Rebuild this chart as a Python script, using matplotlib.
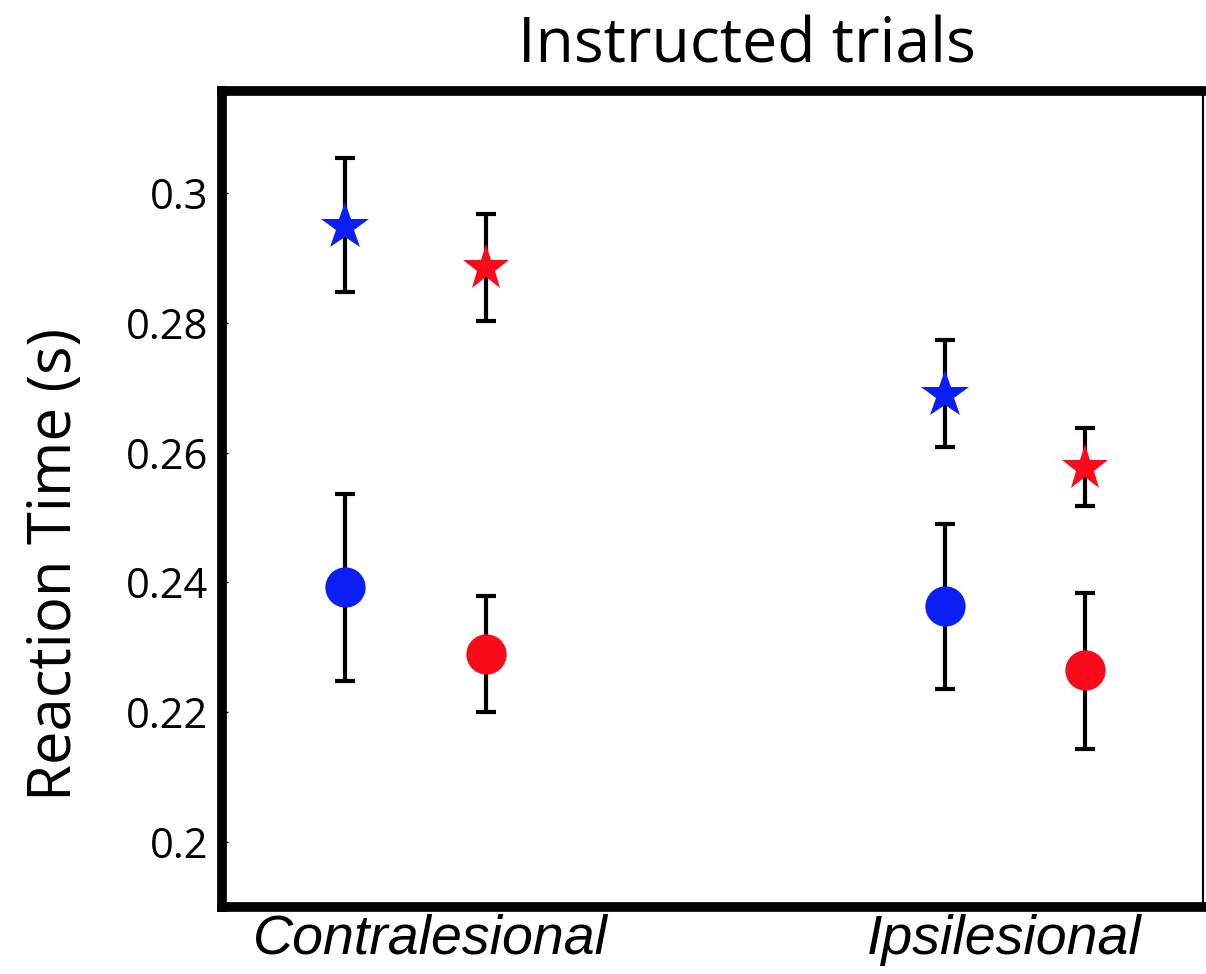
import matplotlib
matplotlib.use("Agg")
import matplotlib.pyplot as plt
from matplotlib import font_manager

categories = ["Contralesional", "Ipsilesional"]
blue_star = [0.2948, 0.2689]
blue_star_lo = [0.2847, 0.2609]
blue_star_hi = [0.3054, 0.2774]
red_star = [0.2884, 0.2576]
red_star_lo = [0.2803, 0.2518]
red_star_hi = [0.2968, 0.2638]
blue_circ = [0.2393, 0.2364]
blue_circ_lo = [0.2248, 0.2236]
blue_circ_hi = [0.2536, 0.2490]
red_circ = [0.2290, 0.2265]
red_circ_lo = [0.2200, 0.2143]
red_circ_hi = [0.2379, 0.2384]
yticks = [0.2, 0.22, 0.24, 0.26, 0.28, 0.3]
ytick_labels = ["0.2", "0.22", "0.24", "0.26", "0.28", "0.3"]

names = {f.name for f in font_manager.fontManager.ttflist}
narrow = "Liberation Sans Narrow" in names
xfam = "Liberation Sans Narrow" if narrow else "Liberation Sans"
xsize = 44 if narrow else 40

fig = plt.figure(figsize=(12.06, 9.74), dpi=100)
ax = fig.add_axes([0.184, 0.0688, 0.8134, 0.8378])

xs = [1, 2]
off = 0.117
series = [
    (blue_star, blue_star_lo, blue_star_hi, "#0a1ff5", "*", -off, 36),
    (red_star, red_star_lo, red_star_hi, "#fb0a1a", "*", off, 35),
    (blue_circ, blue_circ_lo, blue_circ_hi, "#0a1ff5", "o", -off, 29),
    (red_circ, red_circ_lo, red_circ_hi, "#fb0a1a", "o", off, 29),
]
for vals, lo, hi, col, mk, dx, ms in series:
    x = [xi + dx for xi in xs]
    yerr = [[v - l for v, l in zip(vals, lo)], [h - v for v, h in zip(vals, hi)]]
    ax.errorbar(x, vals, yerr=yerr, fmt="none", ecolor="black", elinewidth=3,
                capsize=7, capthick=3, zorder=2)
    ax.plot(x, vals, linestyle="none", marker=mk, color=col, markersize=ms,
            markeredgewidth=0, zorder=3)

ax.set_xlim(0.6775, 2.313)
ax.set_ylim(0.19, 0.3157)
ax.set_yticks(yticks)
ax.set_yticklabels(ytick_labels, fontsize=30, family="Open Sans")
ax.tick_params(axis="y", direction="in", length=4, width=1, pad=10)
ax.set_xticks([1.026, 1.981])
ax.set_xticklabels(categories, fontsize=xsize, family=xfam, style="italic")
ax.tick_params(axis="x", length=0, pad=5)

for s in ["left", "top", "bottom"]:
    ax.spines[s].set_linewidth(7)
ax.spines["right"].set_linewidth(1.5)

fig.text(0.619, 0.953, "Instructed trials", fontsize=45, family="Open Sans",
         ha="center", va="center")
fig.text(0.046, 0.42, "Reaction Time (s)", fontsize=43, family="Open Sans",
         rotation=90, ha="center", va="center")

fig.savefig("out.png", dpi=100, facecolor="white")
